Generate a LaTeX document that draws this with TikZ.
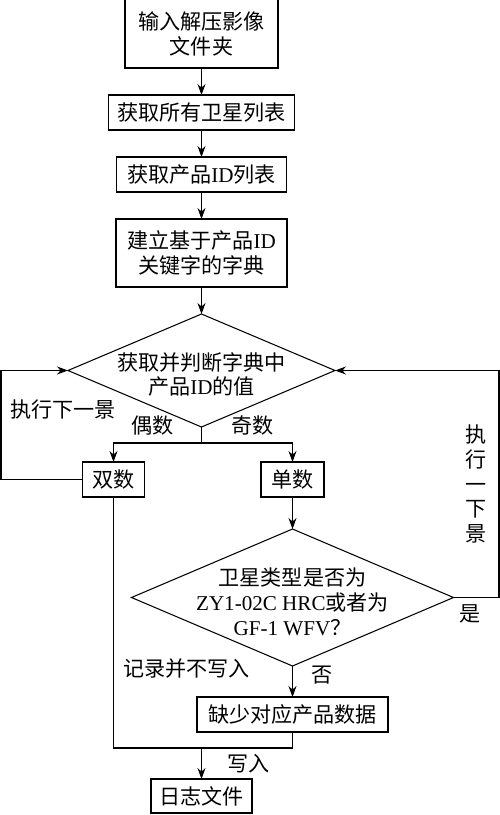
\documentclass[tikz,border=0pt]{standalone}
\usepackage{fontspec}
\setmainfont{Liberation Serif}
\newfontfamily\cjk{Noto Sans CJK SC}
\newcommand\flowfont{\cjk\fontsize{12pt}{14.2pt}\selectfont}
\newcommand\en[1]{{\rmfamily #1}}
\usetikzlibrary{shapes.geometric,arrows.meta,positioning}

\begin{document}
\begin{tikzpicture}[
    box/.style={rectangle, draw, line width=0.6pt, outer sep=0pt, minimum height=0.7cm, font=\flowfont, align=center},
    decision/.style={diamond, draw, line width=0.6pt, outer sep=0pt, inner sep=0pt},
    txt/.style={font=\flowfont, align=center, inner sep=2pt},
    arrow/.style={-{Stealth[length=2.2mm,width=1.6mm]}, line width=0.6pt},
    line/.style={line width=0.6pt}
]
    \useasboundingbox (-4.03,0.67) rectangle (5.97,-15.63);

    \node (input) [box, minimum width=3.06cm, minimum height=1.38cm] {输入解压影像\\文件夹};
    \node (sats) [box, minimum width=3.72cm, below=0.54cm of input] {获取所有卫星列表};
    \node (ids) [box, minimum width=3.4cm, below=0.54cm of sats] {获取产品\en{ID}列表};
    \node (dict) [box, minimum width=3.42cm, minimum height=1.36cm, below=0.54cm of ids] {建立基于产品\en{ID}\\关键字的字典};
    \node (judge) [decision, minimum width=5.34cm, minimum height=2.26cm, below=0.54cm of dict] {};
    \node (judge-txt) [txt, yshift=-0.08cm] at (judge) {获取并判断字典中\\产品\en{ID}的值};

    \coordinate [below=0.32cm of judge.south] (fork);
    \node (even) [box, minimum width=1.24cm, below=0.38cm of fork, xshift=-1.76cm] {双数};
    \node (odd) [box, minimum width=1.26cm, below=0.38cm of fork, xshift=1.82cm] {单数};
    \node (type) [decision, minimum width=6.44cm, minimum height=2.74cm, below=0.64cm of odd] {};
    \node (type-txt) [txt, yshift=-0.08cm] at (type) {卫星类型是否为\\\en{ZY1-02C HRC}或者为\\\en{GF-1 WFV}？};
    \node (miss) [box, minimum width=3.82cm, below=0.62cm of type] {缺少对应产品数据};

    \coordinate [below=0.32cm of miss.south] (join);
    \coordinate (drop) at (join -| input);
    \node (log) [box, minimum width=2.02cm, minimum height=0.68cm, below=0.62cm of drop] {日志文件};

    % loop lines at the page edges
    \coordinate [left=4.01cm of input.center] (loopL);
    \coordinate [right=5.95cm of input.center] (loopR);

    \draw [arrow] (input) -- (sats);
    \draw [arrow] (sats) -- (ids);
    \draw [arrow] (ids) -- (dict);
    \draw [arrow] (dict) -- (judge);
    \draw [line] (judge.south) -- (fork);
    \draw [arrow] (fork) -| node[txt, above=0.07cm, pos=0.28] {偶数} (even);
    \draw [arrow] (fork) -| node[txt, above=0.07cm, pos=0.28] {奇数} (odd);
    \draw [arrow] (even.west) -- (even.west -| loopL) |- node[txt, right=0.11cm, pos=0.32] {执行下一景} (judge.west);
    \draw [arrow] (odd) -- (type);
    \draw [arrow] (type.east) -- node[txt, below=0.07cm, pos=0.37] {是} (type.east -| loopR)
        |- node[txt, left=0.17cm, pos=0.25] {执\\行\\一\\下\\景} (judge.east);
    \draw [arrow] (type) -- node[txt, right=0.29cm, pos=0.3] {否} (miss);
    \draw [line] (even.south) -- node[txt, right=0.11cm, pos=0.685] {记录并不写入} (even |- join) -- (join) -- (miss.south);
    \draw [arrow] (drop) -- node[txt, right=0.43cm, pos=0.5] {写入} (log);
\end{tikzpicture}
\end{document}
